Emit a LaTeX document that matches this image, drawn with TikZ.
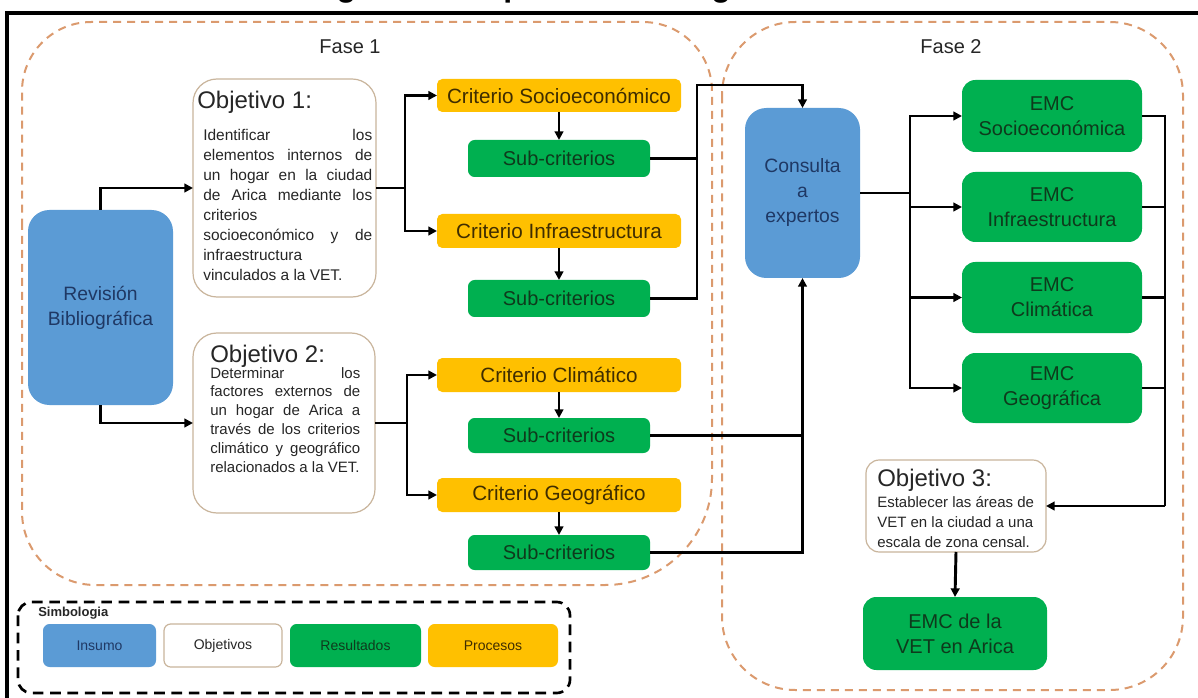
\documentclass[tikz,border=0pt]{standalone}
\usepackage{fontspec}
\setmainfont{Liberation Sans}
\usetikzlibrary{arrows.meta}

\definecolor{insumo}{HTML}{5B9BD5}
\definecolor{insumotxt}{HTML}{1F3864}
\definecolor{proceso}{HTML}{FFC000}
\definecolor{procesotxt}{HTML}{3F2D00}
\definecolor{resultado}{HTML}{00B050}
\definecolor{resultadotxt}{HTML}{0E3A1C}
\definecolor{objborde}{HTML}{C9B59C}
\definecolor{fase}{HTML}{DB9A6E}
\definecolor{texto}{HTML}{262626}

% box given by its corners (x1,y1) (x2,y2)
\newcommand\boxat[7]{\node[#2, minimum width={(#5-#3)*0.75pt}, minimum height={(#6-#4)*0.75pt}] (#1) at ({(#3+#5)/2},{(#4+#6)/2}) {#7};}
% justified and left-aligned lines inside the objective texts
\newcommand\lineJ[1]{\makebox[\linewidth][s]{#1}}
\newcommand\lineL[1]{\makebox[\linewidth][l]{#1}}

\tikzset{
  caja/.style={inner sep=0pt, outer sep=0pt, align=center},
  insumobox/.style={caja, fill=insumo, text=insumotxt, rounded corners=16pt, font=\fontsize{14.5}{18.75}\selectfont},
  procesobox/.style={caja, fill=proceso, text=procesotxt, rounded corners=4pt, font=\fontsize{15.5}{18}\selectfont},
  subbox/.style={caja, fill=resultado, text=resultadotxt, rounded corners=5pt, font=\fontsize{15}{18}\selectfont},
  emcbox/.style={caja, fill=resultado, text=resultadotxt, rounded corners=10pt, font=\fontsize{15}{18.75}\selectfont},
  objbox/.style={caja, draw=objborde, line width=0.9pt, fill=white, rounded corners=#1},
  objbox/.default=18pt,
  objhead/.style={anchor=base west, inner sep=0pt, text=texto, font=\fontsize{18}{21}\selectfont},
  objtext/.style={anchor=base west, inner sep=0pt, text=texto},
  legbox/.style={caja, rounded corners=5pt, font=\fontsize{10.5}{12}\selectfont},
  fasebox/.style={draw=fase, line width=1.5pt, dash pattern=on 6pt off 4.5pt},
  faselabel/.style={text=texto, font=\fontsize{15}{18}\selectfont},
  linea/.style={draw=black, line width=2.2pt},
  flecha/.style={linea, -{Triangle[length=6.5pt,width=6.5pt]}},
}

\begin{document}
\begin{tikzpicture}[x=0.75pt,y=-0.75pt]
\useasboundingbox (0,0) rectangle (1198,698);
\clip (0,0) rectangle (1198,698);
\fill[white] (0,0) rectangle (1198,698);

% title line, mostly above the page
\node[anchor=base west, inner sep=0pt, font=\bfseries\fontsize{24}{28}\selectfont] (titulo) at (308,-3) {Figura 1. Etapas metodológicas};

% outer frame
\draw[line width=3pt] (7,700) -- (7,13) -- (1200,13);

% phases
\draw[fasebox] (22,300) [rounded corners=52pt] -- (22,22) -- (712,22) -- (712,300)
  [rounded corners=80pt] -- (712,585) -- (400,585)
  [rounded corners=55pt] -- (22,585) -- cycle;
\draw[fasebox, rounded corners=55pt] (722,22) rectangle (1183,690);
\node[faselabel] (f1) at (350,47) {Fase 1};
\node[faselabel] (f2) at (951,47) {Fase 2};

% input
\boxat{rev}{insumobox}{28}{210}{173}{405}{Revisión\\Bibliográfica}

% objectives 1 and 2
\boxat{obj1}{objbox}{193}{79}{376}{297}{}
\node[objhead] (obj1h) at (197,108.5) {Objetivo 1:};
\node[objtext] (obj1t) at (203,141) {\parbox[t]{126.75pt}{\fontsize{11.6}{15}\selectfont
  \lineJ{Identificar los}\\
  \lineJ{elementos internos de}\\
  \lineJ{un hogar en la ciudad}\\
  \lineJ{de Arica mediante los}\\
  \lineL{criterios}\\
  \lineJ{socioeconómico y de}\\
  \lineL{infraestructura}\\
  \lineL{vinculados a la VET.}}};

\boxat{obj2}{objbox}{193}{333}{375}{513}{}
\node[objhead] (obj2h) at (210,362) {Objetivo 2:};
\node[objtext] (obj2t) at (210,378) {\parbox[t]{112.5pt}{\fontsize{11.25}{14.1}\selectfont
  \lineJ{Determinar los}\\
  \lineJ{factores externos de}\\
  \lineJ{un hogar de Arica a}\\
  \lineJ{través de los criterios}\\
  \lineJ{climático y geográfico}\\
  \lineL{relacionados a la VET.}}};

% criteria and sub-criteria
\boxat{cs}{procesobox}{437}{79}{681}{112}{Criterio Socioeconómico}
\boxat{s1}{subbox}{468}{140}{650}{177}{Sub-criterios}
\boxat{ci}{procesobox}{437}{214}{681}{248}{Criterio Infraestructura}
\boxat{s2}{subbox}{468}{280}{650}{317}{Sub-criterios}
\boxat{cc}{procesobox}{437}{358}{681}{392}{Criterio Climático}
\boxat{s3}{subbox}{468}{418}{650}{453}{Sub-criterios}
\boxat{cg}{procesobox}{437}{478}{681}{512}{Criterio Geográfico}
\boxat{s4}{subbox}{468}{535}{650}{570}{Sub-criterios}

% experts
\boxat{con}{insumobox}{745}{108}{860}{278}{Consulta\\a\\expertos}

% partial results
\boxat{emc1}{emcbox}{962}{80}{1142}{152}{EMC\\Socioeconómica}
\boxat{emc2}{emcbox}{962}{172}{1142}{242}{EMC\\Infraestructura}
\boxat{emc3}{emcbox}{962}{262}{1142}{333}{EMC\\Climática}
\boxat{emc4}{emcbox}{962}{353}{1142}{423}{EMC\\Geográfica}

% objective 3 and final result
\boxat{obj3}{objbox=10pt}{866}{460}{1046}{552}{}
\node[objhead] (obj3h) at (877,486) {Objetivo 3:};
\node[objtext] (obj3t) at (877,507) {\parbox[t]{120pt}{\fontsize{11.25}{15}\selectfont
  Establecer las áreas de\\
  VET en la ciudad a una\\
  escala de zona censal.}};
\boxat{fin}{emcbox}{863}{597}{1047}{670}{EMC de la\\VET en Arica}

% connectors
\draw[flecha] (rev.north) |- (obj1.west);
\draw[flecha] (rev.south) |- (obj2.west);

\coordinate (b1) at (405,188);
\draw[linea] (obj1.east) -- (b1);
\draw[flecha] (b1) |- (cs.west);
\draw[flecha] (b1) |- (ci.west);

\coordinate (b2) at (407,423);
\draw[linea] (obj2.east) -- (b2);
\draw[flecha] (b2) |- (cc.west);
\draw[flecha] (b2) |- (cg.west);

\draw[flecha] (cs.south) -- (s1.north);
\draw[flecha] (ci.south) -- (s2.north);
\draw[flecha] (cc.south) -- (s3.north);
\draw[flecha] (cg.south) -- (s4.north);

\coordinate (c1) at (697,85);
\draw[linea] (s2.east) -| (c1);
\draw[flecha] (s1.east) -| (c1) -| (con.north);
\draw[linea] (s3.east) -- (s3.east -| con.south);
\draw[flecha] (s4.east) -| (con.south);

\coordinate (e0) at (910,193);
\draw[linea] (con.east) -- (e0);
\draw[flecha] (e0) |- (emc1.west);
\draw[flecha] (e0) |- (emc2.west);
\draw[flecha] (e0) |- (emc3.west);
\draw[flecha] (e0) |- (emc4.west);

\coordinate (r0) at (1165,506);
\draw[linea] (emc1.east) -| (r0);
\draw[linea] (emc2.east) -- (emc2.east -| r0);
\draw[linea] (emc3.east) -- (emc3.east -| r0);
\draw[linea] (emc4.east) -- (emc4.east -| r0);
\draw[flecha] (r0) -- (obj3.east);

\draw[flecha] (obj3.south) -- (fin.north);

% legend
\draw[line width=2pt, dash pattern=on 8pt off 5pt, rounded corners=10pt] (18,602) rectangle (570,693);
\node[anchor=west, inner sep=0pt, text=texto, font=\bfseries\fontsize{9.75}{12}\selectfont] (simb) at (38,613) {Simbologia};
\boxat{l1}{legbox, fill=insumo, text=insumotxt}{43}{624}{156}{667}{Insumo}
\boxat{l2}{legbox, draw=objborde, line width=0.9pt, fill=white, text=texto}{164}{624}{282}{667}{Objetivos}
\boxat{l3}{legbox, fill=resultado, text=resultadotxt}{290}{624}{421}{667}{Resultados}
\boxat{l4}{legbox, fill=proceso, text=procesotxt}{428}{624}{558}{667}{Procesos}
\end{tikzpicture}
\end{document}
